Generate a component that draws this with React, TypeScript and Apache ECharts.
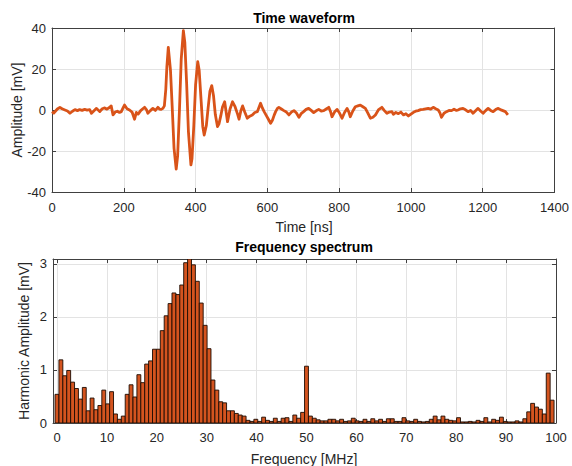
import React, { useEffect, useRef } from "react";
import * as echarts from "echarts";

// ---- Time waveform (ns, mV) ----
const waveTimes: number[] = [
  0, 5, 10, 15, 22, 28, 36, 43, 50, 57, 64, 71, 77, 84, 91, 98, 105, 110, 117, 124,
  133, 140, 147, 153, 160, 165, 170, 176, 182, 188, 193, 198, 202, 209, 216, 223, 230, 235, 240, 247,
  253, 258, 263, 267, 274, 281, 288, 295, 300, 304, 309, 313,
  317, 320, 324, 330, 335, 340, 346, 350, 355, 360, 366, 370, 375, 380, 387, 390, 395, 400,
  406, 410, 415, 420, 424, 430, 435, 440, 445, 450, 455, 461, 465, 470, 475, 481, 489, 496, 503, 510,
  517, 521, 526, 531, 537, 544, 551, 558, 565, 572, 577, 581, 586, 591, 598, 604, 609, 614, 619, 623,
  628, 632, 639, 646, 653, 660, 667, 674, 681, 688, 694, 701, 708, 715, 722, 729, 736, 743, 750, 757,
  764, 771, 776, 780, 787, 794, 801, 808, 815, 822, 827, 831, 838, 845, 852, 859, 866, 873, 880, 887,
  894, 901, 910, 919, 926, 933, 940, 947, 951, 958, 965, 972, 979, 986, 993, 1000, 1007, 1013, 1020, 1027,
  1034, 1041, 1048, 1055, 1062, 1069, 1076, 1081, 1085, 1092, 1099, 1106, 1113, 1120, 1127, 1131, 1138, 1145, 1152, 1159,
  1166, 1173, 1180, 1187, 1194, 1201, 1208, 1215, 1222, 1229, 1236, 1242, 1249, 1256, 1263, 1270,
];
const waveValues: number[] = [
  -0.8, -1.5, -0.5, 0.5, 1.3, 0.6, 0, -0.5, -1.6, -0.6, 0.2, -0.3, 0.2, -0.2, 0.3, -0.1, 0.2, -1.6, -0.4, 0.8,
  -0.8, 0.6, 1.0, 0.4, 1.2, 2.0, -2.4, -1.0, -0.6, -1.2, -0.8, 1.0, 2.4, 0.6, 0, -1.0, -4.5, -1.2, -2.0, -0.3,
  0.6, 1.3, 0.2, -1.6, -0.3, 0.8, -0.2, 1.3, 0.4, 0.3, 0.8, 2.0,
  10, 21, 30.5, 19.6, 1, -18.7, -28.8, -22.4, -0.3, 24.8, 38.7, 33, 13.3, -10.4, -26.8, -23.8, -7.9, 12.2,
  23.6, 19.4, 5.7, -8, -12.2, -7.5, 1.2, 9.2, 11.9, 6.9, -2.2, -8.1, -6.9, -3.0, 1.5, 4.0, -5.7, 0.5, 4.0, 1.6,
  -2.0, -4.5, -0.5, 2.0, -1.0, -4.0, -3.0, -2.4, -1.2, -0.8, 1.5, 3.3, 1.0, -0.8, -3.0, -4.9, -6.5, -5.0, -2.5, -0.8,
  0.8, 1.3, 0.5, -0.3, -1.0, -2.4, -1.0, -0.3, -1.5, -3.6, -1.8, -0.8, 0.3, 0.8, -0.2, -1.3, -0.4, 0.3, -0.5, -0.3,
  0.5, 1.3, -0.8, -3.3, -1.0, 0.3, -1.5, -4.0, -1.2, 0.8, -1.0, -3.3, -0.5, 1.6, 2.0, 2.4, 1.6, 0.8, -1.5, -4.0,
  -3.5, -2.4, 0.2, 1.3, -0.3, -1.6, -1.0, -0.8, -2.1, -1.2, -1.8, -1.0, -2.4, -1.8, -2.9, -2.0, -1.1, -0.6, -0.3, 0.2,
  0.3, 0.6, 0.8, 0.4, 1.3, 0.6, 0, -1.5, -3.6, -1.6, -0.8, -0.2, -0.3, 0.4, -0.2, 0, 0.6, 0.8, 0.1, -0.8,
  -0.2, -1.6, -0.4, 0.8, -0.5, -1.6, -0.3, 0.8, -0.2, -0.8, 0.2, 0.8, 0.2, -0.3, -0.8, -2.4,
];

// ---- Frequency spectrum (MHz bins, mV) ----
const FREQ_STEP = 0.78125;
const spectrumValues: number[] = [
  0.54, 1.19, 0.89, 0.99, 0.77, 0.65, 0.45, 0.67, 0.23, 0.47,
  0.25, 0.33, 0.62, 0.36, 0.59, 0.17, 0.07, 0.13, 0.54, 0.72,
  0.49, 0.91, 0.76, 1.11, 1.17, 1.39, 1.39, 1.74, 2.02, 2.25,
  2.45, 2.42, 2.6, 3.02, 3.09, 2.98, 2.67, 2.26, 1.84, 1.4,
  0.81, 0.62, 0.4, 0.38, 0.23, 0.23, 0.18, 0.15, 0.13, 0.05,
  0.03, 0.07, 0.03, 0.11, 0.05, 0.03, 0.09, 0.03, 0.09, 0.1,
  0.03, 0.15, 0.09, 0.2, 1.07, 0.13, 0.09, 0.06, 0.04, 0.04,
  0.07, 0.07, 0.04, 0.07, 0.03, 0.04, 0.09, 0.04, 0.03, 0.07,
  0.03, 0.08, 0.04, 0.07, 0.03, 0.08, 0.08, 0.03, 0.03, 0.1,
  0.04, 0.03, 0.07, 0.03, 0.02, 0.03, 0.07, 0.13, 0.06, 0.13,
  0.07, 0.05, 0.04, 0.1, 0.02, 0.02, 0.03, 0.02, 0.05, 0.03,
  0.1, 0.02, 0.07, 0.05, 0.11, 0.03, 0.02, 0.02, 0.04, 0.02,
  0.08, 0.21, 0.37, 0.3, 0.26, 0.17, 0.94, 0.43,
];

const timeTicks = { min: 0, max: 1400, interval: 200 };
const ampTicks = { min: -40, max: 40, interval: 20 };
const freqRange = { min: -0.8, max: 100, step: 10 };
const harmRange = { min: 0, max: 3.09, step: 1 };

const FONT = "'Liberation Sans', Arial, Helvetica, sans-serif";
const AXIS_COLOR = "#404040";
const TEXT_COLOR = "#262626";
const GRID_COLOR = "#e3e3e3";
const LINE_COLOR = "#d95319";

const plain = (v: number) => String(v);

function mainAxis(extra: any) {
  return {
    axisLine: { show: true, onZero: false, lineStyle: { color: AXIS_COLOR, width: 1 } },
    axisTick: { show: true, inside: true, length: 4, lineStyle: { color: AXIS_COLOR } },
    splitLine: { show: true, lineStyle: { color: GRID_COLOR, width: 1 } },
    ...extra,
  };
}
function boxAxis(extra: any) {
  return {
    axisLine: { show: true, onZero: false, lineStyle: { color: AXIS_COLOR, width: 1 } },
    axisTick: { show: true, inside: true, length: 4, lineStyle: { color: AXIS_COLOR } },
    axisLabel: { show: false },
    splitLine: { show: false },
    ...extra,
  };
}
function label(margin: number, extra: any = {}) {
  return { color: TEXT_COLOR, fontSize: 13, fontFamily: FONT, margin, formatter: plain, ...extra };
}

export default function App() {
  const ref = useRef<HTMLDivElement>(null);
  useEffect(() => {
    if (!ref.current) return;
    const chart = echarts.init(ref.current, null, { renderer: "svg" });
    const wave = waveTimes.map((t, i) => [t, waveValues[i]]);
    const spec = spectrumValues.map((v, i) => [i * FREQ_STEP, v]);

    const freqAxis = {
      type: "value",
      gridIndex: 1,
      min: freqRange.min,
      max: freqRange.max,
      splitNumber: 10,
      minInterval: freqRange.step,
      maxInterval: freqRange.step,
    };
    const harmAxis = {
      type: "value",
      gridIndex: 1,
      min: harmRange.min,
      max: harmRange.max,
      splitNumber: 3,
      minInterval: harmRange.step,
      maxInterval: harmRange.step,
    };

    chart.setOption({
      animation: false,
      backgroundColor: "#ffffff",
      grid: [
        { left: 52, top: 28, width: 505, height: 164 },
        { left: 53, top: 259, width: 503, height: 164 },
      ],
      xAxis: [
        mainAxis({ type: "value", gridIndex: 0, position: "bottom", ...timeTicks, axisLabel: label(9) }),
        boxAxis({ type: "value", gridIndex: 0, position: "top", ...timeTicks }),
        mainAxis({ ...freqAxis, position: "bottom", axisLabel: label(8, { showMinLabel: false }) }),
        boxAxis({ ...freqAxis, position: "top" }),
      ],
      yAxis: [
        mainAxis({ type: "value", gridIndex: 0, position: "left", ...ampTicks, axisLabel: label(6) }),
        boxAxis({ type: "value", gridIndex: 0, position: "right", ...ampTicks }),
        mainAxis({ ...harmAxis, position: "left", axisLabel: label(6, { showMaxLabel: false }) }),
        boxAxis({ ...harmAxis, position: "right" }),
      ],
      series: [
        {
          type: "line",
          xAxisIndex: 0,
          yAxisIndex: 0,
          data: wave,
          showSymbol: false,
          symbol: "none",
          lineStyle: { color: LINE_COLOR, width: 2.8, join: "round" },
          z: 5,
        },
        {
          type: "custom",
          xAxisIndex: 2,
          yAxisIndex: 2,
          data: spec,
          encode: { x: 0, y: 1 },
          clip: true,
          renderItem: (params: any, api: any) => {
            const f = api.value(0);
            const a = api.value(1);
            const p0 = api.coord([f - FREQ_STEP / 2, a]);
            const p1 = api.coord([f + FREQ_STEP / 2, 0]);
            return {
              type: "rect",
              shape: { x: p0[0], y: p0[1], width: p1[0] - p0[0], height: p1[1] - p0[1] },
              style: { fill: "#d4541f", stroke: "#1c0b02", lineWidth: 0.9 },
            };
          },
          z: 5,
        },
      ],
      graphic: [
        { type: "text", x: 304, y: 18, style: { text: "Time waveform", font: `bold 14px ${FONT}`, fill: "#000", align: "center", verticalAlign: "middle" } },
        { type: "text", x: 304, y: 227, style: { text: "Time [ns]", font: `14px ${FONT}`, fill: TEXT_COLOR, align: "center", verticalAlign: "middle" } },
        { type: "text", x: 17, y: 110, rotation: Math.PI / 2, style: { text: "Amplitude [mV]", font: `14px ${FONT}`, fill: TEXT_COLOR, align: "center", verticalAlign: "middle" } },
        { type: "text", x: 304, y: 247, style: { text: "Frequency spectrum", font: `bold 14px ${FONT}`, fill: "#000", align: "center", verticalAlign: "middle" } },
        { type: "text", x: 304, y: 459, style: { text: "Frequency [MHz]", font: `14px ${FONT}`, fill: TEXT_COLOR, align: "center", verticalAlign: "middle" } },
        { type: "text", x: 24, y: 341, rotation: Math.PI / 2, style: { text: "Harmonic Amplitude [mV]", font: `14px ${FONT}`, fill: TEXT_COLOR, align: "center", verticalAlign: "middle" } },
      ],
    });
    return () => chart.dispose();
  }, []);
  return (
    <div
      ref={ref}
      style={{ position: "absolute", left: 0, top: 0, width: 572, height: 466, background: "#fff" }}
    />
  );
}
